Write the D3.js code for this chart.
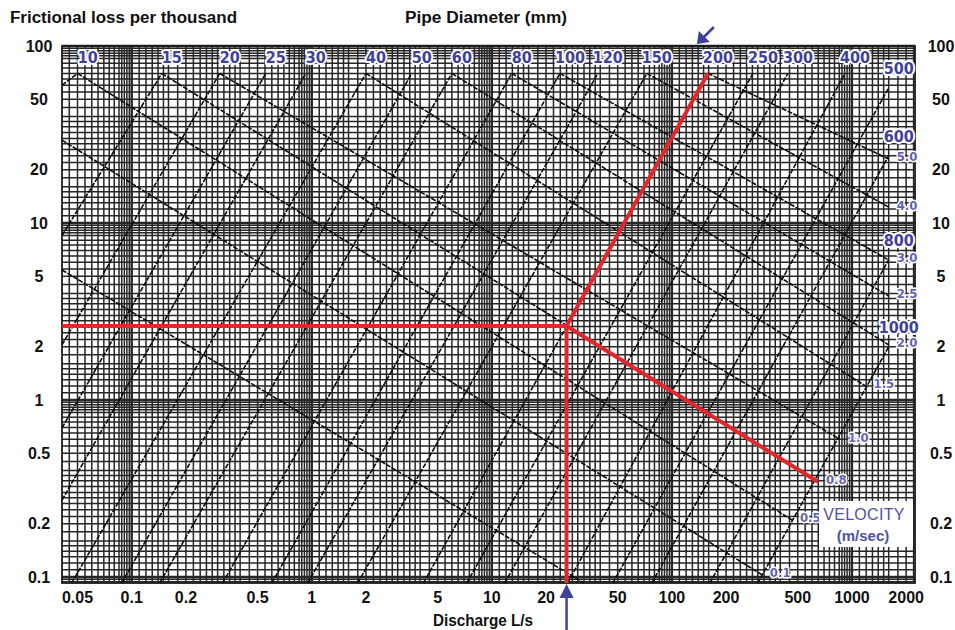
<!DOCTYPE html>
<html>
<head>
<meta charset="utf-8">
<script src="https://cdn.jsdelivr.net/npm/d3@7"></script>
<style>
  body { margin: 0; background: #fff; }
  svg { display: block; }
</style>
</head>
<body>
<svg id="chart" width="955" height="630"></svg>
<script>
// ---- Axis ticks -------------------------------------------------------
const dischargeTicks = [0.05, 0.1, 0.2, 0.5, 1, 2, 5, 10, 20, 50, 100, 200, 500, 1000, 2000]; // L/s
const lossTicks = [100, 50, 20, 10, 5, 2, 1, 0.5, 0.2, 0.1];                                   // per thousand
const dischargeDomain = [0.041, 2240];
const lossDomain = [0.0925, 100];

// ---- Pipe diameter lines (mm): lower-left end and upper-right end ------
const diameters = [10, 15, 20, 25, 30, 40, 50, 60, 80, 100, 120, 150, 200, 250, 300, 400, 500, 600, 800, 1000];
const diamLowQ  = [0.041, 0.041, 0.041, 0.041, 0.041, 0.0464, 0.088, 0.143, 0.32, 0.6, 0.95, 1.8, 4.17, 7.26, 11.8, 26.4, 47, 77.4, 162.6, 300];
const diamLowS  = [60, 8.5, 2.05, 0.695, 0.272, 0.0925, 0.0925, 0.0925, 0.0925, 0.0925, 0.0925, 0.0925, 0.0925, 0.0925, 0.0925, 0.0925, 0.0925, 0.0925, 0.0925, 0.0925];
const diamHighQ = [0.0501, 0.147, 0.308, 0.555, 0.926, 2.0, 3.59, 6.0, 12.9, 23.9, 38.8, 72.6, 158.5, 282, 441, 915, 1600, 1600, 1600, 1600];
const diamHighS = [70, 70, 70, 70, 70, 70, 70, 70, 70, 70, 70, 70, 70, 70, 70, 70, 58, 24, 6.2, 2.0];

// ---- Velocity lines (m/sec): upper-left start and lower-right end -----
const velocityLabels = ["", "0.1", "0.5", "0.8", "1.0", "1.5", "2.0", "2.5", "3.0", "4.0", "5.0"];
const velStartQ = [0.041, 0.041, 0.0501, 0.147, 0.308, 2.0, 6.0, 12.9, 23.9, 72.6, 158.5];
const velStartS = [5.43, 29.4, 70, 70, 70, 70, 70, 70, 70, 70, 70];
const velEndQ   = [32.5, 316, 464, 647, 858, 1190, 1600, 1600, 1600, 1600, 1600];
const velEndS   = [0.0925, 0.103, 0.21, 0.345, 0.6, 1.2, 2.05, 3.87, 6.18, 12.3, 23];

// ---- Worked example: discharge, loss, chosen pipe and resulting velocity
const exampleQ = 26;
const exampleS = 2.62;
const exampleDiameter = 200;
const exampleVelocity = "0.8";

// ---- Layout -----------------------------------------------------------
const svg = d3.select("#chart");
const plot = { left: 62, right: 915, top: 46, bottom: 583 };
const x = d3.scaleLog().domain(dischargeDomain).range([plot.left, plot.right]);
const y = d3.scaleLog().domain(lossDomain).range([plot.bottom, plot.top]);

const ink = "#1c1c1c";
const blue = "#3f3f9c";
const lightBlue = "#6464b2";
const red = "#e3262b";
const boldFont = "'Liberation Sans', Arial, Helvetica, sans-serif";
const narrowFont = "'Liberation Sans Narrow', 'Arial Narrow', 'DejaVu Sans Condensed', 'Liberation Sans', sans-serif";

svg.append("rect").attr("width", 955).attr("height", 630).attr("fill", "#fff");

// ---- Log-paper grid: roughly even rulings with a dense band below each decade
const paperSteps = [1, 1.1, 1.2, 1.3, 1.4, 1.5, 1.6, 1.8, 2, 2.2, 2.4, 2.6, 2.8, 3, 3.25, 3.5, 3.75,
                    4, 4.5, 5, 5.5, 6, 6.5, 7, 7.5, 8, 8.5, 8.8, 9.1, 9.4, 9.7];
function paperValues(lo, hi) {
  const out = [];
  for (let e = -3; e <= 4; e++) {
    for (const m of paperSteps) {
      const v = m * Math.pow(10, e);
      if (v >= lo * 0.999 && v <= hi * 1.001) out.push({ v, decade: m === 1 });
    }
  }
  return out;
}

const grid = svg.append("g");
grid.selectAll("line.v")
  .data(paperValues(dischargeDomain[0], dischargeDomain[1]))
  .join("line")
  .attr("class", "v")
  .attr("x1", d => x(d.v)).attr("x2", d => x(d.v))
  .attr("y1", plot.top).attr("y2", plot.bottom)
  .attr("stroke", "#262626")
  .attr("stroke-width", d => d.decade ? 2.4 : 1.5);

grid.selectAll("line.h")
  .data(paperValues(lossDomain[0], lossDomain[1]))
  .join("line")
  .attr("class", "h")
  .attr("y1", d => y(d.v)).attr("y2", d => y(d.v))
  .attr("x1", plot.left).attr("x2", plot.right)
  .attr("stroke", "#262626")
  .attr("stroke-width", d => d.decade ? 2.4 : 1.5);

svg.append("rect")
  .attr("x", plot.left).attr("y", plot.top)
  .attr("width", plot.right - plot.left).attr("height", plot.bottom - plot.top)
  .attr("fill", "none").attr("stroke", ink).attr("stroke-width", 1.8);

// ---- Diameter and velocity lines --------------------------------------
const seg = d3.line().x(d => x(d[0])).y(d => y(d[1]));

const diamData = diameters.map((d, i) => ({
  d, low: [diamLowQ[i], diamLowS[i]], high: [diamHighQ[i], diamHighS[i]]
}));
const velData = velocityLabels.map((v, i) => ({
  v, start: [velStartQ[i], velStartS[i]], end: [velEndQ[i], velEndS[i]]
}));

const lines = svg.append("g")
  .attr("fill", "none").attr("stroke", "#0d0d0d")
  .attr("stroke-width", 1.6).attr("stroke-dasharray", "5 1.3");
lines.selectAll("path.diam").data(diamData).join("path")
  .attr("class", "diam").attr("d", d => seg([d.low, d.high]));
lines.selectAll("path.vel").data(velData).join("path")
  .attr("class", "vel").attr("d", d => seg([d.start, d.end]));

// ---- Worked example in red --------------------------------------------
const ex = [exampleQ, exampleS];
const exD = diamData.find(d => d.d === exampleDiameter);
const exV = velData.find(d => d.v === exampleVelocity);
const redG = svg.append("g").attr("fill", "none").attr("stroke", red)
  .attr("stroke-width", 4).attr("stroke-linejoin", "round");
redG.append("path").attr("d", seg([[dischargeDomain[0], exampleS], ex, [exampleQ, lossDomain[0]]]));
redG.append("path").attr("d", seg([ex, exD.high]));
redG.append("path").attr("d", seg([ex, exV.end]));

// ---- Labels on the lines ----------------------------------------------
function halo(sel, w) {
  return sel.attr("stroke", "#fff").attr("stroke-width", w)
    .attr("stroke-linejoin", "round").attr("paint-order", "stroke");
}

const atRightEdge = d => d.high[0] >= dischargeDomain[1] * 0.7;
halo(svg.append("g").selectAll("text").data(diamData).join("text")
  .attr("x", d => x(d.high[0]) + 10)
  .attr("y", d => y(d.high[1]) - (atRightEdge(d) ? 19 : 16))
  .attr("text-anchor", "middle").attr("dominant-baseline", "central")
  .attr("font-family", narrowFont).attr("font-size", 16).attr("font-weight", "bold")
  .attr("fill", blue)
  .text(d => d.d), 4);

halo(svg.append("g").selectAll("text").data(velData.filter(d => d.v !== "")).join("text")
  .attr("x", d => x(d.end[0]) + 8)
  .attr("y", d => y(d.end[1]) - 2)
  .attr("text-anchor", "start").attr("dominant-baseline", "central")
  .attr("font-family", narrowFont).attr("font-size", 13).attr("font-weight", "bold")
  .attr("fill", lightBlue)
  .text(d => d.v), 3);

// Velocity legend box
const vb = svg.append("g");
vb.append("rect").attr("x", 819).attr("y", 501).attr("width", 94).attr("height", 46).attr("fill", "#fff");
vb.append("text").attr("x", 864).attr("y", 514)
  .attr("text-anchor", "middle").attr("dominant-baseline", "central")
  .attr("font-family", boldFont).attr("font-size", 16).attr("fill", "#5050a8")
  .attr("letter-spacing", 0.3).text("VELOCITY");
vb.append("text").attr("x", 863).attr("y", 535)
  .attr("text-anchor", "middle").attr("dominant-baseline", "central")
  .attr("font-family", boldFont).attr("font-size", 15).attr("font-weight", "bold")
  .attr("fill", "#5050a8").text("(m/sec)");

// ---- Axes tick labels -------------------------------------------------
const fmt = v => String(v);
const axisText = sel => sel.attr("font-family", boldFont).attr("font-weight", "bold")
  .attr("font-size", 16).attr("fill", "#111")
  .attr("text-anchor", "middle").attr("dominant-baseline", "central");

axisText(svg.append("g").selectAll("text").data(lossTicks).join("text")
  .attr("x", 39).attr("y", d => y(d)).text(fmt));
axisText(svg.append("g").selectAll("text").data(lossTicks).join("text")
  .attr("x", 941).attr("y", d => y(d)).text(fmt));
axisText(svg.append("g").selectAll("text").data(dischargeTicks).join("text")
  .attr("x", d => x(d)).attr("y", 597).text(fmt));

// ---- Titles -----------------------------------------------------------
const title = (t, xx, yy, anchor, len) => svg.append("text")
  .attr("x", xx).attr("y", yy).attr("text-anchor", anchor)
  .attr("dominant-baseline", "central")
  .attr("font-family", boldFont).attr("font-weight", "bold")
  .attr("font-size", 16).attr("fill", "#111")
  .attr("textLength", len).attr("lengthAdjust", "spacingAndGlyphs")
  .text(t);
title("Frictional loss per thousand", 10, 17, "start", 227);
title("Pipe Diameter (mm)", 486, 17, "middle", 162);
title("Discharge L/s", 483, 620, "middle", 100);

// ---- Pointer arrows ---------------------------------------------------
const arrows = svg.append("g").attr("fill", blue).attr("stroke", blue);
const tipTop = [x(exD.high[0]) - 11, 44];
arrows.append("line")
  .attr("x1", tipTop[0] + 17).attr("y1", tipTop[1] - 17)
  .attr("x2", tipTop[0] + 5).attr("y2", tipTop[1] - 5)
  .attr("stroke-width", 2.5);
arrows.append("path").attr("stroke", "none")
  .attr("d", `M${tipTop[0]},${tipTop[1]} l2,-13 l11,11 z`);

const bx = x(exampleQ);
arrows.append("line").attr("x1", bx).attr("x2", bx).attr("y1", 630).attr("y2", 596)
  .attr("stroke-width", 2.5);
arrows.append("path").attr("stroke", "none")
  .attr("d", `M${bx},${plot.bottom + 1} l7,14 l-14,0 z`);
</script>
</body>
</html>
